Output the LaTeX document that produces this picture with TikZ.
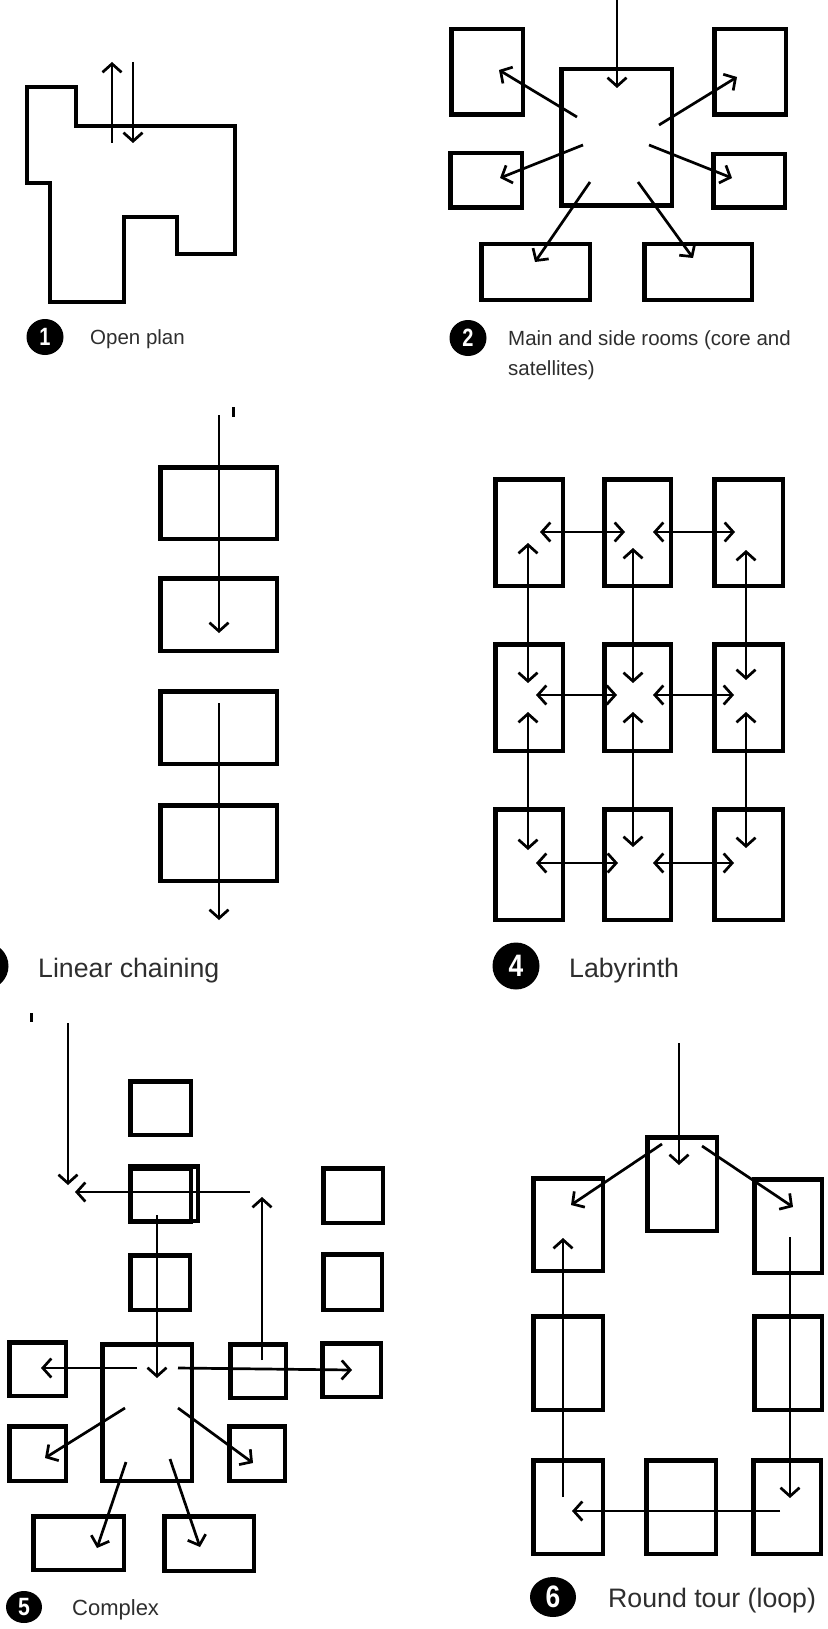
\documentclass[tikz,border=0pt]{standalone}
\usepackage{fontspec}
\setmainfont{Liberation Sans}
\usetikzlibrary{arrows.meta,shapes.geometric}

% a room drawn as a thick-walled rectangle, given by its outer corners
\newcommand\room[5]{%
  \node[room, minimum width={(#4-#2-4.5)*1pt}, minimum height={(#5-#3-4.5)*1pt}]
    (#1) at ({(#2+#4)/2},{(#3+#5)/2}) {};}
% a walking route between two named points
\newcommand\route[6][flow]{%
  \coordinate (#2-s) at (#3,#4);
  \coordinate (#2-e) at (#5,#6);
  \draw[#1] (#2-s) -- (#2-e);}

\tikzset{
  room/.style={draw, rectangle, line width=4.5pt, inner sep=0pt, outer sep=0pt},
  wall/.style={line width=4.2pt, line join=miter},
  barb/.tip={Straight Barb[length=8.5pt,width=19pt]},
  flow/.style={line width=2.7pt, -barb},
  twoway/.style={line width=2.7pt, barb-barb},
  badge/.style={ellipse, fill=black, text=white, inner sep=0pt},
  smallbadge/.style={badge, font=\bfseries\fontsize{25}{25}\selectfont},
  largebadge/.style={badge, font=\bfseries\fontsize{31}{31}\selectfont},
  caption/.style={anchor=base west, inner sep=0pt, text=black!82, align=left},
  small/.style={caption, font=\fontsize{20.5}{30}\selectfont},
  large/.style={caption, font=\fontsize{26.7}{32}\selectfont},
  speck/.style={line width=3pt}
}

\begin{document}
\begin{tikzpicture}[x=1pt,y=-1pt]
\useasboundingbox (0,0) rectangle (827,1629);
\fill[white] (0,0) rectangle (827,1629);

% ---------- 1: open plan ----------
\draw[wall] (27,87) -- (76,87) -- (76,126) -- (235,126) -- (235,254) -- (177,254)
  -- (177,217) -- (124,217) -- (124,302) -- (50,302) -- (50,183) -- (27,183) -- cycle;
\route{p1out}{112}{143}{112}{62}
\route{p1in}{133}{62}{133}{143}
\node[smallbadge, minimum width=37pt, minimum height=36pt] (b1) at (45,337) {\scalebox{0.8}[1]{1}};
\node[small] (t1) at (90,344) {Open plan};

% ---------- 2: core and satellites ----------
\room{c2}{559}{67}{674}{208}
\room{tl2}{449}{27}{525}{117}
\room{tr2}{712}{27}{788}{117}
\room{ml2}{448}{151}{524}{210}
\room{mr2}{711}{152}{787}{210}
\room{bl2}{479}{242}{592}{302}
\room{br2}{642}{242}{754}{302}
\route{p2in}{617}{-3}{617}{88}
\route{p2tl}{577}{117}{499}{70}
\route{p2tr}{659}{125}{737}{77}
\route{p2ml}{583}{145}{500}{178}
\route{p2mr}{649}{145}{732}{178}
\route{p2bl}{590}{182}{535}{262}
\route{p2br}{638}{182}{693}{258}
\node[smallbadge, minimum width=37pt, minimum height=36pt] (b2) at (468,338) {\scalebox{0.8}[1]{2}};
\node[small] (t2) at (508,375) {Main and side rooms (core and\\satellites)};

% ---------- 3: linear chaining ----------
\room{l31}{158}{465}{279}{541}
\room{l32}{158}{576}{279}{653}
\room{l33}{158}{689}{279}{766}
\room{l34}{158}{803}{279}{883}
\route{p3a}{219}{415}{219}{633}
\route{p3b}{219}{703}{219}{920}
\draw[speck] (233,407) -- (233,417);
\node[largebadge, minimum width=47pt, minimum height=47pt] (b3) at (-15,966) {\scalebox{0.85}[1]{3}};
\node[large] (t3) at (38,977) {Linear chaining};

% ---------- 4: labyrinth ----------
\room{r11}{493}{477}{565}{588}
\room{r12}{602}{477}{673}{588}
\room{r13}{712}{477}{785}{588}
\room{r21}{493}{642}{565}{753}
\room{r22}{602}{642}{673}{753}
\room{r23}{712}{642}{785}{753}
\room{r31}{493}{807}{565}{922}
\room{r32}{602}{807}{673}{922}
\room{r33}{712}{807}{785}{922}
\route[twoway]{h1a}{540}{532}{625}{532}
\route[twoway]{h1b}{653}{532}{735}{532}
\route[twoway]{h2a}{536}{695}{617}{695}
\route[twoway]{h2b}{653}{695}{734}{695}
\route[twoway]{h3a}{536}{863}{618}{863}
\route[twoway]{h3b}{653}{863}{734}{863}
\route[twoway]{v1a}{528}{543}{528}{683}
\route[twoway]{v1b}{528}{712}{528}{850}
\route[twoway]{v2a}{633}{548}{633}{683}
\route[twoway]{v2b}{633}{712}{633}{847}
\route[twoway]{v3a}{746}{550}{746}{680}
\route[twoway]{v3b}{746}{712}{746}{848}
\node[largebadge, minimum width=47pt, minimum height=47pt] (b4) at (516,966) {\scalebox{0.85}[1]{4}};
\node[large] (t4) at (569,977) {Labyrinth};

% ---------- 5: complex ----------
\room{a5}{128}{1079}{193}{1137}
\room{b5}{128}{1166}{193}{1224}
\room{bb5}{128}{1164}{200}{1223}
\room{c5}{128}{1253}{192}{1312}
\room{q51}{321}{1166}{385}{1225}
\room{q52}{321}{1252}{384}{1312}
\room{m5}{100}{1342}{194}{1483}
\room{w51}{7}{1340}{68}{1398}
\room{e50}{228}{1342}{288}{1400}
\room{e51}{320}{1341}{383}{1399}
\room{w52}{7}{1424}{68}{1483}
\room{e52}{227}{1424}{287}{1483}
\room{s51}{31}{1514}{126}{1572}
\room{s52}{162}{1514}{256}{1573}
\draw[speck] (31,1013) -- (31,1022);
\route{p5in}{68}{1023}{68}{1185}
\route{p5back}{250}{1192}{75}{1192}
\route{p5up}{262}{1360}{262}{1197}
\route{p5down}{157}{1215}{157}{1378}
\route{p5w}{137}{1368}{41}{1368}
\route{p5e}{178}{1368}{352}{1370}
\route{p5sw}{125}{1408}{45}{1458}
\route{p5se}{178}{1408}{253}{1463}
\route{p5ssw}{126}{1462}{97}{1548}
\route{p5sse}{170}{1459}{200}{1547}
\node[smallbadge, minimum width=36pt, minimum height=32pt] (b5) at (24,1607) {\scalebox{0.85}[1]{5}};
\node[caption, font=\fontsize{22}{26}\selectfont] (t5) at (72,1615) {Complex};

% ---------- 6: round tour ----------
\room{top6}{645}{1135}{719}{1233}
\room{l61}{531}{1176}{605}{1273}
\room{r61}{752}{1177}{824}{1275}
\room{l62}{531}{1314}{605}{1412}
\room{r62}{752}{1314}{824}{1412}
\room{l63}{531}{1458}{605}{1556}
\room{m63}{644}{1458}{718}{1556}
\room{r63}{751}{1458}{823}{1556}
\route{p6in}{679}{1043}{679}{1165}
\route{p6l}{662}{1144}{571}{1205}
\route{p6r}{702}{1146}{793}{1207}
\route{p6down}{790}{1237}{790}{1498}
\route{p6back}{780}{1511}{572}{1511}
\route{p6up}{563}{1497}{563}{1238}
\node[largebadge, minimum width=46pt, minimum height=40pt] (b6) at (553,1597) {\scalebox{0.85}[1]{6}};
\node[large] (t6) at (608,1607) {Round tour (loop)};
\end{tikzpicture}
\end{document}
